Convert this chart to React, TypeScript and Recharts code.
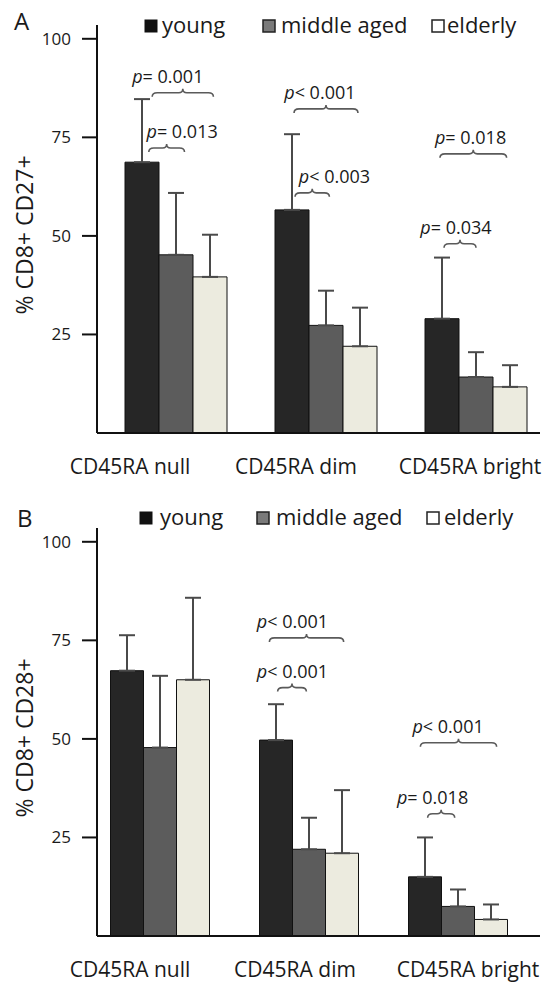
import React from 'react';
import { BarChart, Bar, XAxis, YAxis, ErrorBar, LabelList } from 'recharts';

const FONT = '"Open Sans", "DejaVu Sans", sans-serif';

const categories = ['CD45RA null', 'CD45RA dim', 'CD45RA bright'];
const seriesNames = ['young', 'middle aged', 'elderly'];
const yTicks = [25, 50, 75, 100];

// panel A: % CD8+ CD27+
const youngA = [68.7, 56.6, 29.0];
const middleA = [45.2, 27.3, 14.2];
const elderlyA = [39.6, 22.0, 11.7];
const youngErrA = [16.0, 19.2, 15.5];
const middleErrA = [15.7, 8.8, 6.3];
const elderlyErrA = [10.7, 9.8, 5.5];

// panel B: % CD8+ CD28+
const youngB = [67.3, 49.7, 15.0];
const middleB = [47.8, 22.0, 7.5];
const elderlyB = [65.0, 21.0, 4.2];
const youngErrB = [9.0, 9.1, 10.0];
const middleErrB = [18.2, 8.0, 4.3];
const elderlyErrB = [20.8, 16.0, 3.8];

// significance brackets: category, compared group (1 = middle aged, 2 = elderly), height, p text
const pValuesA = [
  { cat: 0, to: 2, level: 85.3, text: '= 0.001' },
  { cat: 0, to: 1, level: 71.3, text: '= 0.013' },
  { cat: 1, to: 2, level: 81.2, text: '< 0.001' },
  { cat: 1, to: 1, level: 59.9, text: '< 0.003' },
  { cat: 2, to: 2, level: 69.8, text: '= 0.018' },
  { cat: 2, to: 1, level: 47.0, text: '= 0.034' },
];
const pValuesB = [
  { cat: 1, to: 2, level: 74.6, text: '< 0.001' },
  { cat: 1, to: 1, level: 62.0, text: '< 0.001' },
  { cat: 2, to: 2, level: 48.0, text: '< 0.001' },
  { cat: 2, to: 1, level: 30.0, text: '= 0.018' },
];

// bracket layout, in bar widths from the left edge of the young bar
const bracketSpanA = [[0.8, 2.6], [0.7, 1.75], [0.56, 2.44], [0.59, 1.6], [0.44, 2.4], [0.56, 1.5]];
const textCenterA = [1.26, 1.68, 1.32, 1.75, 1.34, 0.91];
const bracketSpanB = [[0.3, 2.55], [0.55, 1.42], [0.36, 2.67], [0.58, 1.4]];
const textCenterB = [1.0, 1.0, 1.2, 0.73];

const COLORS = ['#262626', '#5c5c5c', '#ecebdf'];

const buildRows = (y, m, e, ye, me, ee) =>
  categories.map((name, i) => ({
    name,
    young: y[i],
    middle: m[i],
    elderly: e[i],
    youngErr: [0, ye[i]],
    middleErr: [0, me[i]],
    elderlyErr: [0, ee[i]],
  }));

const dataA = buildRows(youngA, middleA, elderlyA, youngErrA, middleErrA, elderlyErrA);
const dataB = buildRows(youngB, middleB, elderlyB, youngErrB, middleErrB, elderlyErrB);

// brackets drawn from the young bar geometry of each category
const makeBrackets = (pvals, means, spans, textPos) => (props: any) => {
  const vb = props.viewBox || props;
  const { x, y, width, height } = vb;
  const idx = props.index;
  const v = means[idx];
  if (!v || !height) return null;
  const pxPerUnit = height / v;
  const base = y + height;
  return (
    <g>
      {pvals.map((p, k) => {
        if (p.cat !== idx) return null;
        const tip = base - p.level * pxPerUnit;
        const x1 = x + width * spans[k][0];
        const x2 = x + width * spans[k][1];
        const xm = (x1 + x2) / 2;
        const f = tip - 4;
        const d = `M${x1},${tip} Q${x1},${f} ${x1 + 5},${f} L${xm - 4},${f} Q${xm},${f} ${xm},${f - 4} Q${xm},${f} ${xm + 4},${f} L${x2 - 5},${f} Q${x2},${f} ${x2},${tip}`;
        return (
          <g key={k}>
            <path d={d} fill="none" stroke="#5a5a5a" strokeWidth={1.6} />
            <text x={x + width * textPos[k]} y={tip - 14} textAnchor="middle" fontSize={18} fontFamily={FONT} fill="#1a1a1a">
              <tspan fontStyle="italic">p</tspan>
              <tspan>{p.text}</tspan>
            </text>
          </g>
        );
      })}
    </g>
  );
};

const makeXTick = (offsets) => (props: any) => {
  const { x, y, index, payload } = props;
  return (
    <text x={x + offsets[index]} y={y + 41} textAnchor="middle" fontSize={21} fontFamily={FONT} fill="#1a1a1a">
      {payload.value}
    </text>
  );
};

const yLabel = (text) => (props: any) => {
  const vb = props.viewBox;
  const cx = vb.x + 24;
  const cy = vb.y + vb.height / 2 + 6;
  return (
    <text transform={`translate(${cx},${cy}) rotate(-90)`} textAnchor="middle" dominantBaseline="central"
      fontSize={23} fontFamily={FONT} fill="#1a1a1a">
      {text}
    </text>
  );
};

const Panel = ({ data, pvals, youngMeans, spans, textPos, label, padding, barSize, tickOffsets, height }) => (
  <BarChart width={549} height={height} data={data} barGap={0} barSize={barSize}
    margin={{ top: 25, right: 9, bottom: height - 483, left: 0 }}>
    <XAxis dataKey="name" axisLine={{ stroke: '#111', strokeWidth: 2 }} tickLine={false} tickSize={0} tickMargin={0}
      padding={padding} height={50} interval={0} tick={makeXTick(tickOffsets)} />
    <YAxis type="number" domain={[0, 103.5]} allowDataOverflow ticks={yTicks} width={97}
      axisLine={{ stroke: '#111', strokeWidth: 2 }} tickLine={{ stroke: '#111', strokeWidth: 2 }}
      tickSize={15} tickMargin={11} tick={{ fontSize: 17, fontFamily: FONT, fill: '#1a1a1a' }}
      label={{ content: yLabel(label) }} />
    <Bar dataKey="young" fill={COLORS[0]} stroke="#111" strokeWidth={1} isAnimationActive={false}>
      <ErrorBar dataKey="youngErr" width={8} strokeWidth={2} stroke="#4a4a4a" direction="y" />
      <LabelList dataKey="young" content={makeBrackets(pvals, youngMeans, spans, textPos)} />
    </Bar>
    <Bar dataKey="middle" fill={COLORS[1]} stroke="#111" strokeWidth={1} isAnimationActive={false}>
      <ErrorBar dataKey="middleErr" width={8} strokeWidth={2} stroke="#4a4a4a" direction="y" />
    </Bar>
    <Bar dataKey="elderly" fill={COLORS[2]} stroke="#111" strokeWidth={1} isAnimationActive={false}>
      <ErrorBar dataKey="elderlyErr" width={8} strokeWidth={2} stroke="#4a4a4a" direction="y" />
    </Bar>
  </BarChart>
);

const LegendRow = ({ y, sq, tx }) => (
  <g fontFamily={FONT} fontSize={22} fill="#1a1a1a">
    <rect x={sq[0]} y={y - 13} width={12} height={12} fill="#111" stroke="#111" />
    <text x={tx[0]} y={y}>{seriesNames[0]}</text>
    <rect x={sq[1]} y={y - 13} width={12} height={12} fill="#7a7a7a" stroke="#222" strokeWidth={1.5} />
    <text x={tx[1]} y={y}>{seriesNames[1]}</text>
    <rect x={sq[2]} y={y - 13} width={12} height={12} fill="#fff" stroke="#222" strokeWidth={1.5} />
    <text x={tx[2]} y={y}>{seriesNames[2]}</text>
  </g>
);

export default function App() {
  return (
    <div style={{ position: 'absolute', left: 0, top: 0, width: 549, height: 988, background: '#fff', overflow: 'hidden' }}>
      <div style={{ position: 'absolute', left: 0, top: 0 }}>
        <Panel data={dataA} pvals={pValuesA} youngMeans={youngA} spans={bracketSpanA} textPos={textCenterA}
          label="% CD8+ CD27+" padding={{ left: 4, right: -11 }} barSize={34} tickOffsets={[-46, -30, -6]} height={490} />
      </div>
      <div style={{ position: 'absolute', left: 0, top: 503 }}>
        <Panel data={dataB} pvals={pValuesB} youngMeans={youngB} spans={bracketSpanB} textPos={textCenterB}
          label="% CD8+ CD28+" padding={{ left: -11.5, right: 7.5 }} barSize={33} tickOffsets={[-30, -14, 10]} height={485} />
      </div>
      <svg width={549} height={988} style={{ position: 'absolute', left: 0, top: 0, pointerEvents: 'none' }}>
        <text x={14} y={30} fontFamily={FONT} fontSize={24} fill="#1a1a1a">A</text>
        <text x={17} y={527} fontFamily={FONT} fontSize={24} fill="#1a1a1a">B</text>
        <LegendRow y={33} sq={[145, 263, 432]} tx={[162, 281, 447]} />
        <LegendRow y={525} sq={[140, 257, 427]} tx={[160, 276, 444]} />
      </svg>
    </div>
  );
}
